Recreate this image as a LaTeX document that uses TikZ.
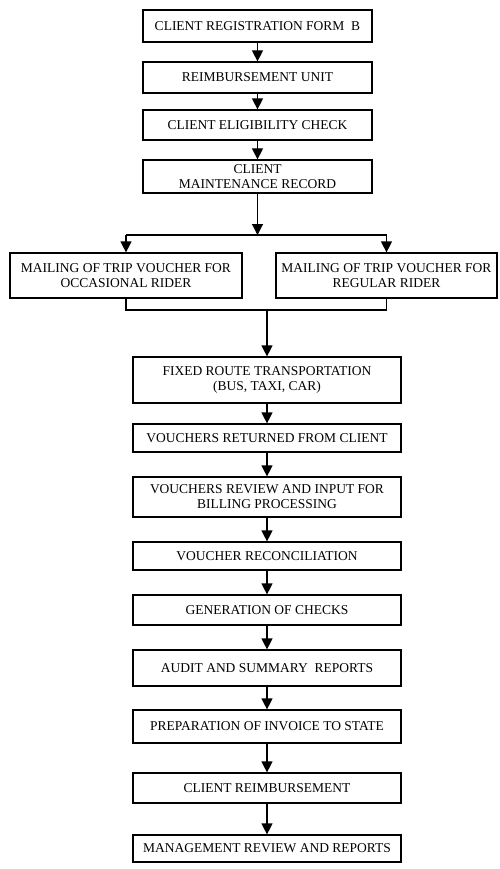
\documentclass[tikz,border=0pt]{standalone}
\usepackage{fontspec}
\setmainfont{Liberation Serif}
\usetikzlibrary{arrows.meta}

\begin{document}
\begin{tikzpicture}[x=1pt,y=-1pt,
	stepbox/.style={draw, line width=1.2pt, align=center, inner sep=0pt,
		font=\fontsize{13.5}{15}\selectfont},
	topbox/.style={stepbox, minimum width=229pt},
	lowbox/.style={stepbox, minimum width=268pt},
	flow/.style={line width=1.2pt, -{Triangle[length=11pt,width=11pt]}}]
\useasboundingbox (0,0) rectangle (499,869);
\node[topbox, minimum height=32pt] (reg) at (257.5,26) {CLIENT REGISTRATION FORM\ \ B};
\node[topbox, minimum height=31pt] (unit) at (257.5,77.5) {REIMBURSEMENT UNIT};
\node[topbox, minimum height=30pt] (elig) at (257.5,125) {CLIENT ELIGIBILITY CHECK};
\node[topbox, minimum height=33pt] (maint) at (257.5,176.5) {CLIENT\\MAINTENANCE RECORD};
\node[stepbox, minimum width=232pt, minimum height=45pt] (occ) at (126,275.5)
	{MAILING OF TRIP VOUCHER FOR\\OCCASIONAL RIDER};
\node[stepbox, minimum width=221pt, minimum height=45pt] (regular) at (386.5,275.5)
	{MAILING OF TRIP VOUCHER FOR\\REGULAR RIDER};
\node[lowbox, minimum height=46pt] (fixed) at (267,380) {FIXED ROUTE TRANSPORTATION\\(BUS, TAXI, CAR)};
\node[lowbox, minimum height=28pt] (ret) at (267,438) {VOUCHERS RETURNED FROM CLIENT};
\node[lowbox, minimum height=40pt] (review) at (267,497) {VOUCHERS REVIEW AND INPUT FOR\\BILLING PROCESSING};
\node[lowbox, minimum height=28pt] (recon) at (267,556) {VOUCHER RECONCILIATION};
\node[lowbox, minimum height=30pt] (checks) at (267,610) {GENERATION OF CHECKS};
\node[lowbox, minimum height=36pt] (audit) at (267,668) {AUDIT AND SUMMARY\ \ REPORTS};
\node[lowbox, minimum height=33pt] (invoice) at (267,726.5) {PREPARATION OF INVOICE TO STATE};
\node[lowbox, minimum height=30pt] (reimb) at (267,788) {CLIENT REIMBURSEMENT};
\node[lowbox, minimum height=27pt] (mgmt) at (267,848.5) {MANAGEMENT REVIEW AND REPORTS};
\draw[flow] (reg) -- (unit);
\draw[flow] (unit) -- (elig);
\draw[flow] (elig) -- (maint);
% split to the two mailings
\coordinate (split) at (257.5,235);
\draw[flow] (maint) -- (split);
\draw[line width=1.2pt] (occ.north |- split) -- (regular.north |- split);
\draw[flow] (occ.north |- split) -- (occ.north);
\draw[flow] (regular.north |- split) -- (regular.north);
% join again
\coordinate (join) at (267,310);
\draw[line width=1.2pt] (occ.south) -- (occ.south |- join) -- (regular.south |- join) -- (regular.south);
\draw[flow] (join) -- (fixed);
\foreach \a/\b in {fixed/ret, ret/review, review/recon, recon/checks, checks/audit,
	audit/invoice, invoice/reimb, reimb/mgmt}
	\draw[flow] (\a) -- (\b);
\end{tikzpicture}
\end{document}
